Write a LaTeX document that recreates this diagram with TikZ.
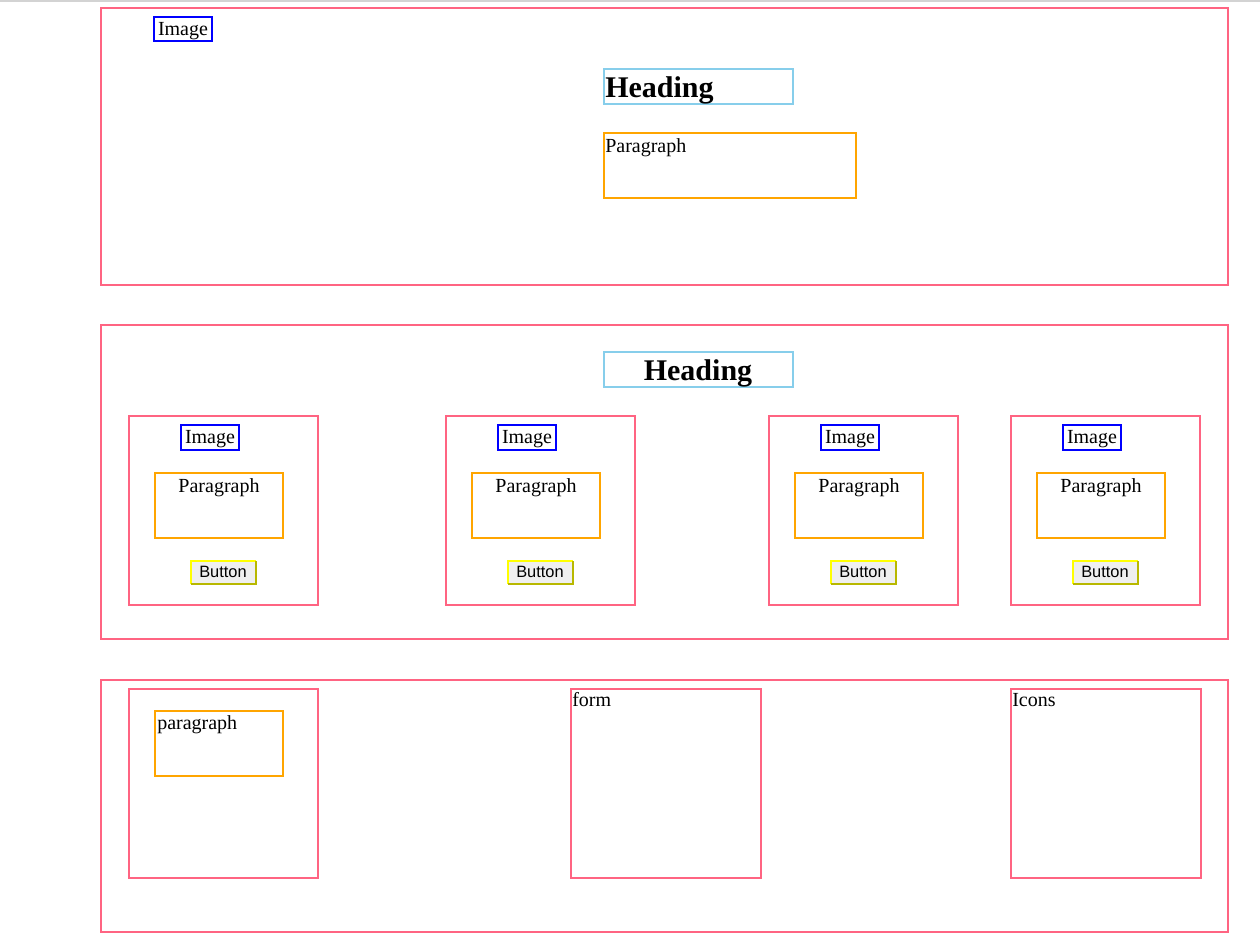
\documentclass[tikz,border=0pt]{standalone}
\usepackage{fontspec}
\setmainfont{Liberation Serif}
\newfontfamily\btnfont{Liberation Sans}
\definecolor{secpink}{HTML}{FF6482}
\definecolor{imgblue}{HTML}{0000FF}
\definecolor{headsky}{HTML}{87CEEB}
\definecolor{paraorange}{HTML}{FFA500}
\definecolor{btnyellow}{HTML}{FFFF00}
\definecolor{btndark}{HTML}{B8B800}
\definecolor{btnfill}{HTML}{EFEFEF}
\definecolor{topgray}{HTML}{D3D3D3}
\tikzset{
  secbox/.style={draw=secpink, line width=1.5pt},
  imgbox/.style={draw=imgblue, line width=1.5pt},
  headbox/.style={draw=headsky, line width=1.5pt},
  parabox/.style={draw=paraorange, line width=1.5pt},
  txt/.style={inner sep=0pt, font=\fontsize{15}{18}\selectfont, text=black},
  headtxt/.style={inner sep=0pt, font=\fontsize{22.5}{26}\selectfont\bfseries, text=black},
  btntxt/.style={inner sep=0pt, font=\btnfont\fontsize{12.3}{14}\selectfont, text=black},
}
\begin{document}
\begin{tikzpicture}[x=0.75pt,y=-0.75pt]
\useasboundingbox (0,0) rectangle (1260,940);
\fill[white] (0,0) rectangle (1260,940);
\draw[topgray, line width=1.5pt] (0,1) -- (1260,1);
% ---------- section 1
\draw[secbox] (100.5,8) rectangle (1228,285);
\draw[imgbox] (154,17) rectangle (212,41);
\node[txt, anchor=base] (img1) at (183,35) {Image};
\draw[headbox] (603.5,69) rectangle (793,104);
\node[headtxt, anchor=base west] (head1) at (605,97) {Heading};
\draw[parabox] (603.5,133) rectangle (856,198);
\node[txt, anchor=base west] (para1) at (605,152) {Paragraph};
% ---------- section 2
\draw[secbox] (100.5,325) rectangle (1228,639);
\draw[headbox] (603.5,352) rectangle (793,387);
\node[headtxt, anchor=base] (head2) at (698,380) {Heading};
\foreach \cx/\n in {128/a,445/b,768/c,1010/d}{
  \draw[secbox] (\cx+0.5,416) rectangle (\cx+190,605);
  \draw[imgbox] (\cx+53,425) rectangle (\cx+111,450);
  \node[txt, anchor=base] (cimg\n) at (\cx+82,443) {Image};
  \draw[parabox] (\cx+27,473) rectangle (\cx+155,538);
  \node[txt, anchor=base] (cpara\n) at (\cx+91,492) {Paragraph};
  \fill[btnfill] (\cx+62,560) rectangle (\cx+128,584);
  \draw[btnyellow, line width=1.5pt] (\cx+63,584) -- (\cx+63,561) -- (\cx+128,561);
  \draw[btndark, line width=1.5pt] (\cx+128,561) -- (\cx+128,584) -- (\cx+63,584);
  \node[btntxt, anchor=base] (cbtn\n) at (\cx+95,577) {Button};
}
% ---------- section 3
\draw[secbox] (100.5,680) rectangle (1228,932);
\draw[secbox] (128.5,689) rectangle (318,878);
\draw[parabox] (155,711) rectangle (283,776);
\node[txt, anchor=base west] (para3) at (157,729) {paragraph};
\draw[secbox] (570.5,689) rectangle (761,878);
\node[txt, anchor=base west] (form) at (572,706) {form};
\draw[secbox] (1010.5,689) rectangle (1201,878);
\node[txt, anchor=base west] (icons) at (1012,706) {Icons};
\end{tikzpicture}
\end{document}
